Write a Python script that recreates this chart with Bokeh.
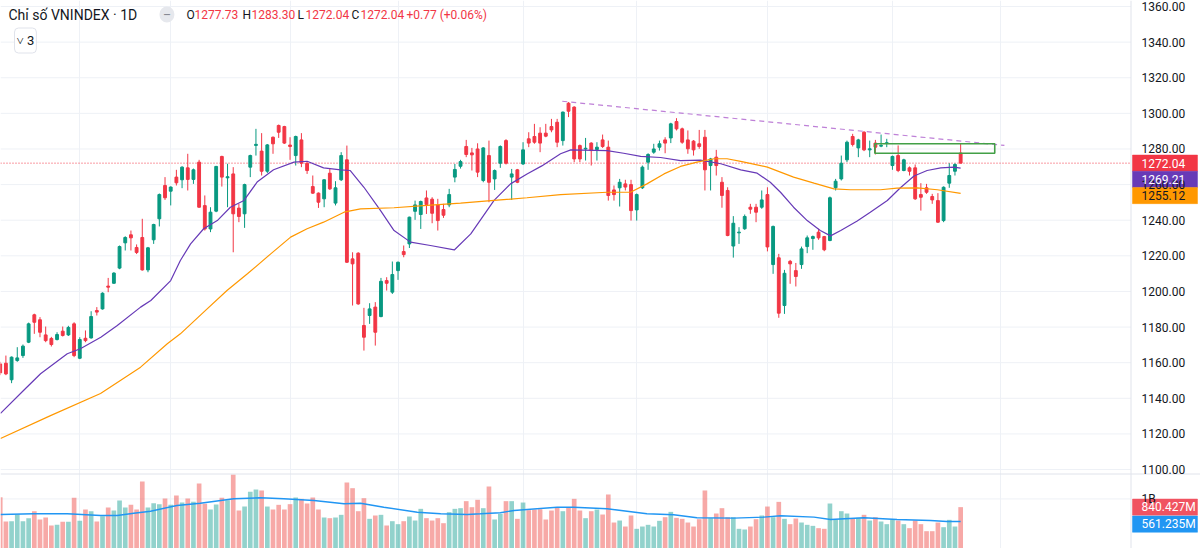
from bokeh.plotting import figure
from bokeh.models import ColumnDataSource, Range1d, FixedTicker, Label, Span
from bokeh.embed import file_html
from bokeh.resources import INLINE

FONT = "Roboto"

# ---------------- data ----------------
idx = list(range(-1, 169))

opens = [
    1159.3, 1159.7, 1150.4, 1161.2, 1164.0, 1171.5, 1186.9, 1184.1, 1175.6, 1173.6,
    1173.0, 1177.7, 1175.6, 1181.8, 1162.5, 1173.7, 1173.9, 1189.3, 1190.2, 1203.0,
    1204.6, 1213.1, 1227.3, 1231.8, 1224.7, 1230.3, 1212.1, 1229.0, 1240.8, 1259.5,
    1256.3, 1264.2, 1262.7, 1269.4, 1262.9, 1272.6, 1248.2, 1235.1, 1245.1, 1275.8,
    1263.8, 1266.0, 1246.8, 1243.6, 1269.8, 1282.0, 1278.8, 1267.5, 1286.6, 1293.2,
    1292.6, 1282.2, 1276.3, 1285.1, 1272.0, 1258.9, 1255.2, 1252.0, 1266.4, 1249.6,
    1262.7, 1273.9, 1218.3, 1221.5, 1180.9, 1186.5, 1191.2, 1185.9, 1206.1, 1199.6,
    1211.7, 1222.4, 1226.7, 1245.0, 1243.2, 1252.5, 1251.8, 1248.6, 1246.0, 1248.6,
    1264.2, 1270.3, 1281.4, 1277.8, 1280.0, 1262.3, 1276.3, 1263.2, 1272.0, 1284.7,
    1264.2, 1268.3, 1271.6, 1285.7, 1287.0, 1288.9, 1288.9, 1292.6, 1295.0, 1284.7,
    1305.7, 1303.5, 1281.9, 1280.0, 1283.3, 1279.7, 1285.1, 1281.0, 1257.0, 1258.2,
    1260.4, 1260.0, 1245.8, 1258.2, 1272.6, 1278.2, 1281.0, 1285.1, 1286.2, 1295.4,
    1291.3, 1285.1, 1284.4, 1282.9, 1286.6, 1270.7, 1275.4, 1261.3, 1256.7, 1225.5,
    1232.9, 1235.2, 1247.3, 1247.3, 1247.3, 1254.4, 1215.1, 1218.9, 1192.1, 1216.9,
    1211.7, 1215.1, 1225.2, 1229.7, 1233.3, 1230.8, 1228.6, 1258.2, 1263.2, 1273.9,
    1287.0, 1280.6, 1289.4, 1279.5, 1283.3, 1281.6, 1283.2, 1270.7, 1276.3, 1267.9,
    1269.4, 1269.4, 1254.4, 1258.2, 1253.3, 1251.0, 1239.8, 1260.8, 1267.5, 1277.73,
]
highs = [
    1160.5, 1164.0, 1163.5, 1168.7, 1170.2, 1182.5, 1187.5, 1185.6, 1180.3, 1174.5,
    1177.1, 1180.3, 1180.7, 1182.7, 1174.3, 1178.1, 1188.9, 1191.2, 1199.5, 1207.6,
    1210.8, 1225.8, 1231.0, 1234.2, 1226.4, 1240.8, 1225.0, 1238.0, 1255.0, 1264.2,
    1259.0, 1268.3, 1270.3, 1277.3, 1269.0, 1273.9, 1253.9, 1247.3, 1270.5, 1276.2,
    1271.7, 1269.8, 1249.2, 1260.5, 1276.8, 1291.3, 1288.9, 1282.8, 1287.0, 1293.7,
    1293.0, 1286.6, 1287.5, 1288.9, 1272.5, 1265.1, 1255.6, 1263.0, 1268.8, 1261.9,
    1278.2, 1281.9, 1222.0, 1222.0, 1190.8, 1193.4, 1194.0, 1207.6, 1208.0, 1216.8,
    1216.8, 1225.8, 1242.0, 1251.0, 1251.0, 1256.7, 1252.9, 1252.0, 1249.2, 1257.6,
    1271.6, 1273.9, 1285.1, 1280.6, 1283.2, 1281.0, 1284.7, 1268.5, 1282.0, 1285.5,
    1268.8, 1268.8, 1283.8, 1289.4, 1294.1, 1292.2, 1294.1, 1296.9, 1296.9, 1301.0,
    1306.3, 1304.0, 1282.5, 1286.2, 1283.8, 1283.8, 1288.1, 1284.7, 1259.5, 1263.2,
    1262.7, 1262.7, 1255.0, 1270.7, 1277.6, 1282.9, 1284.7, 1286.6, 1294.7, 1297.3,
    1292.0, 1290.4, 1285.0, 1290.7, 1290.7, 1275.0, 1279.5, 1264.2, 1258.5, 1242.3,
    1236.1, 1243.2, 1249.2, 1249.2, 1256.7, 1258.5, 1237.0, 1221.1, 1212.1, 1217.7,
    1216.0, 1225.2, 1231.4, 1231.4, 1235.2, 1231.2, 1253.3, 1263.2, 1276.3, 1284.7,
    1288.5, 1285.7, 1290.0, 1284.7, 1285.1, 1288.1, 1285.7, 1276.3, 1282.0, 1274.5,
    1270.2, 1271.3, 1260.8, 1260.4, 1254.8, 1255.2, 1259.0, 1272.0, 1272.0, 1283.30,
]
lows = [
    1153.0, 1153.0, 1148.5, 1160.5, 1162.7, 1171.0, 1176.2, 1174.3, 1171.5, 1169.1,
    1172.5, 1174.7, 1175.0, 1163.1, 1162.0, 1171.5, 1173.5, 1186.5, 1189.8, 1199.6,
    1204.3, 1212.5, 1223.0, 1223.0, 1221.0, 1211.7, 1210.8, 1226.7, 1236.5, 1251.4,
    1248.3, 1259.5, 1258.0, 1256.7, 1260.4, 1247.0, 1234.2, 1233.3, 1244.5, 1258.9,
    1247.3, 1222.0, 1238.9, 1235.7, 1264.2, 1276.3, 1265.1, 1266.5, 1277.3, 1286.2,
    1282.8, 1273.9, 1270.7, 1269.8, 1266.0, 1254.8, 1246.9, 1247.3, 1257.0, 1248.3,
    1262.0, 1216.0, 1192.1, 1192.5, 1166.8, 1181.8, 1169.6, 1185.5, 1200.5, 1198.6,
    1206.5, 1219.2, 1224.4, 1240.2, 1235.1, 1243.5, 1238.3, 1234.2, 1241.3, 1247.3,
    1261.3, 1269.0, 1275.4, 1267.9, 1264.2, 1261.3, 1250.1, 1257.0, 1269.4, 1271.3,
    1251.4, 1260.8, 1271.0, 1281.0, 1282.9, 1278.2, 1286.6, 1289.4, 1281.0, 1281.9,
    1297.9, 1272.6, 1272.6, 1273.5, 1270.7, 1273.5, 1280.6, 1251.0, 1251.0, 1247.7,
    1256.7, 1239.8, 1239.8, 1257.5, 1268.3, 1277.3, 1279.1, 1277.6, 1283.3, 1290.4,
    1282.9, 1277.3, 1276.3, 1280.1, 1256.7, 1256.7, 1265.1, 1247.0, 1231.0, 1219.0,
    1226.7, 1234.6, 1243.6, 1238.9, 1246.4, 1222.5, 1209.9, 1185.2, 1187.4, 1204.3,
    1202.8, 1212.7, 1221.5, 1223.4, 1229.0, 1222.6, 1228.2, 1256.7, 1262.3, 1272.6,
    1281.4, 1275.4, 1278.8, 1275.4, 1276.9, 1281.0, 1281.0, 1268.3, 1267.0, 1267.5,
    1265.1, 1251.4, 1245.4, 1254.8, 1249.2, 1238.5, 1238.9, 1258.2, 1265.1, 1272.04,
]
closes = [
    1154.3, 1153.7, 1163.1, 1162.7, 1169.3, 1181.8, 1182.7, 1177.1, 1172.4, 1170.2,
    1175.8, 1175.3, 1179.8, 1164.0, 1173.0, 1172.4, 1185.9, 1188.4, 1199.0, 1202.4,
    1210.3, 1225.2, 1230.3, 1230.1, 1221.9, 1212.1, 1224.5, 1237.6, 1254.4, 1252.6,
    1258.6, 1261.0, 1269.8, 1262.9, 1268.3, 1247.3, 1235.1, 1244.5, 1270.2, 1264.2,
    1264.4, 1243.6, 1242.1, 1260.0, 1276.3, 1282.6, 1267.5, 1282.3, 1282.9, 1289.4,
    1283.3, 1281.4, 1287.0, 1272.0, 1267.9, 1255.2, 1250.1, 1262.7, 1257.6, 1258.2,
    1276.3, 1216.4, 1215.5, 1193.0, 1174.3, 1190.2, 1177.1, 1205.7, 1204.6, 1209.5,
    1216.4, 1220.7, 1241.7, 1248.6, 1250.5, 1248.8, 1243.9, 1239.8, 1242.8, 1254.4,
    1268.5, 1272.9, 1276.9, 1276.7, 1267.0, 1280.6, 1261.3, 1267.9, 1281.4, 1272.0,
    1266.0, 1261.3, 1279.5, 1283.3, 1283.8, 1283.3, 1287.2, 1290.7, 1283.8, 1300.7,
    1301.2, 1274.4, 1274.4, 1280.4, 1279.1, 1281.0, 1281.4, 1253.9, 1254.4, 1261.3,
    1258.6, 1245.4, 1254.4, 1269.8, 1276.9, 1280.0, 1282.9, 1283.3, 1294.1, 1291.3,
    1283.8, 1280.1, 1279.5, 1281.4, 1268.3, 1274.4, 1270.7, 1253.9, 1231.4, 1238.3,
    1233.3, 1242.1, 1246.2, 1244.5, 1251.4, 1225.0, 1236.5, 1187.8, 1210.2, 1215.5,
    1208.4, 1223.9, 1230.1, 1230.8, 1230.1, 1223.4, 1252.6, 1261.9, 1272.0, 1283.8,
    1282.5, 1285.1, 1279.5, 1280.1, 1281.0, 1282.0, 1283.5, 1275.8, 1267.9, 1273.9,
    1267.5, 1252.0, 1252.9, 1255.7, 1251.4, 1238.9, 1258.5, 1265.1, 1271.27, 1272.04,
]
volumes_m = [
    1035, 560, 566, 696, 566, 625, 761, 599, 638, 482,
    495, 553, 553, 1022, 573, 794, 761, 560, 664, 833,
    774, 970, 833, 885, 794, 1340, 833, 917, 898, 1009,
    885, 1067, 930, 1009, 943, 1301, 905, 794, 891, 1022,
    976, 1477, 774, 852, 1139, 1184, 1165, 852, 794, 885,
    794, 898, 1028, 1002, 911, 1028, 794, 638, 625, 638,
    690, 1321, 1210, 761, 1015, 612, 677, 690, 482, 566,
    508, 566, 657, 579, 807, 625, 579, 625, 527, 742,
    807, 820, 957, 839, 983, 820, 1243, 599, 709, 957,
    957, 612, 930, 781, 794, 800, 599, 774, 839, 761,
    833, 1002, 774, 625, 761, 794, 696, 1087, 540, 579,
    462, 677, 417, 462, 495, 462, 573, 644, 748, 631,
    612, 540, 462, 605, 1165, 625, 716, 820, 644, 644,
    417, 404, 462, 605, 677, 852, 644, 943, 612, 508,
    618, 540, 495, 475, 430, 417, 911, 599, 761, 716,
    612, 631, 690, 579, 644, 560, 508, 599, 579, 508,
    430, 579, 508, 371, 371, 540, 449, 592, 462, 840.427,
]

# moving averages (x in bar index, y in price / volume M)
ma20_x = [-0.95, 3.1, 6.1, 10.8, 13.1, 16.7, 19.6, 23.7, 25.5, 29.0, 30.7, 32.5, 34.8, 37.2,
          39.5, 41.9, 44.2, 47.1, 50.7, 53.0, 55.9, 58.9, 60.6, 63.0, 65.9, 68.3, 71.2, 74.7,
          78.9, 81.8, 85.9, 88.8, 91.7, 94.3, 97.6, 99.4, 105.8, 108.7, 111.7, 115.2, 118.7,
          122.2, 125.8, 129.3, 132.2, 134.5, 136.3, 138.6, 141.0, 143.3, 145.1, 146.9, 149.8,
          152.1, 155.1, 157.4, 159.8, 162.1, 164.5, 166.8, 168.0]
ma20_y = [1131.5, 1144.4, 1153.8, 1165.0, 1167.8, 1174.3, 1180.9, 1191.2, 1194.9, 1206.1,
          1217.4, 1226.7, 1235.2, 1239.8, 1247.3, 1251.1, 1261.4, 1268.3, 1272.6, 1273.1,
          1269.4, 1268.3, 1267.9, 1258.5, 1245.5, 1234.2, 1227.7, 1225.8, 1223.3, 1232.3,
          1251.1, 1260.4, 1266.0, 1270.5, 1277.3, 1279.5, 1279.1, 1277.6, 1275.8, 1275.2,
          1273.5, 1273.7, 1271.7, 1268.3, 1266.4, 1261.3, 1255.7, 1247.3, 1239.8, 1234.2,
          1231.2, 1234.2, 1239.5, 1244.5, 1251.1, 1258.2, 1264.8, 1267.9, 1269.4, 1269.8,
          1269.21]
ma50_x = [-0.95, 7.85, 16.65, 23.7, 28.4, 30.7, 34.8, 38.9, 42.5, 46.6, 50.1, 53.0, 55.9,
          59.5, 62.4, 68.3, 74.1, 80.0, 85.9, 91.7, 97.6, 105.8, 109.9, 112.8, 115.8, 118.7,
          121.6, 124.6, 126.9, 129.3, 134.0, 138.6, 142.2, 145.7, 148.6, 153.9, 156.8, 160.4,
          163.9, 168.0]
ma50_y = [1117.4, 1130.3, 1142.7, 1157.5, 1170.6, 1176.2, 1188.4, 1200.5, 1209.9, 1221.1,
          1230.5, 1235.2, 1238.9, 1244.5, 1246.4, 1247.0, 1248.3, 1249.6, 1251.1, 1252.6,
          1254.4, 1255.7, 1255.7, 1260.4, 1266.0, 1270.2, 1272.6, 1274.5, 1274.5, 1273.0,
          1269.8, 1264.2, 1260.8, 1257.6, 1257.1, 1257.1, 1258.0, 1258.2, 1257.1, 1255.12]
vma_x = [-0.95, 4.9, 10.8, 16.65, 19.6, 22.5, 25.45, 30.1, 34.2, 40.1, 44.8, 48.9, 54.2,
         59.5, 62.4, 66.5, 72.4, 76.5, 81.2, 83.5, 87.0, 89.4, 97.0, 99.9, 105.8, 112.8,
         117.5, 121.6, 128.1, 133.4, 136.3, 142.2, 145.1, 151.0, 156.8, 162.7, 165.6, 168.0]
vma_y = [697, 710, 710, 677, 677, 722, 761, 872, 917, 1003, 1022, 1003, 970, 905, 917, 839,
         741, 710, 697, 710, 730, 775, 839, 839, 808, 710, 691, 632, 625, 645, 671, 645,
         599, 632, 599, 580, 560, 561.235]

# drawings on the chart
trend_x = [97.9, 175.7]
trend_y = [1306.8, 1282.0]
zone_left, zone_right = [152.9], [174.0]
zone_top, zone_bottom = [1282.9], [1277.6]

month_ticks = [13, 29, 50, 69, 91, 111, 134, 156, 175]
price_ticks = list(range(1100, 1361, 20))
vol_ticks = [1000]
vol_tick_labels = ["1B"]

ma20_last, ma50_last = 1269.21, 1255.12
vol_last, vma_last = 840.427, 561.235


# ---------------- layout helpers (reference pixel <-> data) ----------------
def px_to_x(px):
    return (px - 5.4) / 5.683


def py_to_price(py):
    return 1360 - (py - 6) * 0.5615


def price_to_py(v):
    return 6 + (1360 - v) / 0.5615


def py_to_vol(py):
    return (549.7 - py) / 0.05125


def vol_to_py(v):
    return 549.7 - v * 0.05125


UP, DOWN = "#089981", "#f23645"
TXT = "#131722"
GRID = "#eef1f6"
AXIS_X = 1130.5          # pixel column of the price-scale border

up = [c >= o for o, c in zip(opens, closes)]
src = ColumnDataSource(dict(
    x=idx, h=highs, l=lows,
    top=[max(o, c) for o, c in zip(opens, closes)],
    bottom=[min(o, c) for o, c in zip(opens, closes)],
    color=[UP if u else DOWN for u in up],
    vcolor=["#26a69a" if u else "#ef5350" for u in up],
    vol=volumes_m,
))

p = figure(width=1200, height=548, output_backend="svg", toolbar_location=None, tools="",
           x_range=Range1d(px_to_x(0), px_to_x(1200)),
           y_range=Range1d(py_to_price(548), py_to_price(0)),
           x_axis_location=None, y_axis_location=None,
           min_border=0, min_border_left=0, min_border_right=0, min_border_top=0, min_border_bottom=0,
           background_fill_color="white", border_fill_color="white", outline_line_color=None)
p.title.visible = False
p.extra_y_ranges = {"vol": Range1d(py_to_vol(548), py_to_vol(0))}

# grid: vertical month lines, horizontal price lines that stop at the price scale
p.xgrid.ticker = FixedTicker(ticks=month_ticks)
p.xgrid.grid_line_color = GRID
p.ygrid.visible = False
x_left, x_axis = px_to_x(0), px_to_x(AXIS_X)
p.segment(x0=[x_left] * len(price_ticks), x1=[x_axis] * len(price_ticks),
          y0=price_ticks, y1=price_ticks, line_color=GRID, line_width=1)
p.segment(x0=[x_left] * len(vol_ticks), x1=[x_axis] * len(vol_ticks),
          y0=vol_ticks, y1=vol_ticks, line_color=GRID, line_width=1, y_range_name="vol")

# price-scale border and pane separator
p.add_layout(Span(location=x_axis, dimension="height", line_color="#e0e3eb", line_width=1))
p.add_layout(Span(location=py_to_price(473.5), dimension="width", line_color="#e0e3eb", line_width=1))

# volume
p.vbar(x="x", width=0.82, top="vol", bottom=0, fill_color="vcolor", fill_alpha=0.5,
       line_color=None, y_range_name="vol", source=src)
p.line(vma_x, vma_y, line_color="#2196f3", line_width=1.4, y_range_name="vol")

# last-price dotted line
p.segment(x0=[x_left], x1=[x_axis], y0=[closes[-1]], y1=[closes[-1]],
          line_color=DOWN, line_dash="1 2", line_width=1)

# candles
p.segment(x0="x", y0="h", x1="x", y1="l", line_color="color", line_width=1, source=src)
p.vbar(x="x", width=0.5, top="top", bottom="bottom", fill_color="color", line_color="color",
       line_width=1, source=src)

# moving averages
p.line(ma20_x, ma20_y, line_color="#673ab7", line_width=1.2)
p.line(ma50_x, ma50_y, line_color="#ff9800", line_width=1.2)

# drawings
p.line(trend_x, trend_y, line_color="#b36ad0", line_alpha=0.85, line_width=1.2, line_dash="5 4")
p.quad(left=zone_left, right=zone_right, top=zone_top, bottom=zone_bottom,
       fill_alpha=0, line_color="#43a047", line_width=1.6)

# price-scale labels
lab_x = px_to_x(1141)
for t in price_ticks:
    p.add_layout(Label(x=lab_x, y=t, text="%.2f" % t, text_font=FONT, text_font_size="12px",
                       text_color=TXT, text_baseline="middle", text_align="left"))
for t, s in zip(vol_ticks, vol_tick_labels):
    p.add_layout(Label(x=lab_x, y=t, text=s, text_font=FONT, text_font_size="12px",
                       text_color=TXT, text_baseline="middle", text_align="left",
                       y_range_name="vol"))


# value tags on the price scale (boxes are drawn as quads, text as labels)
def tag(center_py, text, bg, fg, h=16.2):
    top, bot = py_to_price(center_py - h / 2), py_to_price(center_py + h / 2)
    p.quad(left=[px_to_x(1132)], right=[px_to_x(1197)], top=[top], bottom=[bot],
           fill_color=bg, line_color=bg, line_width=0.5)
    p.add_layout(Label(x=px_to_x(1141), y=py_to_price(center_py), text=text, text_font=FONT,
                       text_font_size="12px", text_color=fg, text_baseline="middle",
                       text_align="left"))


c0 = price_to_py(closes[-1])
tag(c0, "%.2f" % closes[-1], "#f23645", "white")
tag(c0 + 16.2, "%.2f" % ma20_last, "#673ab7", "white")
tag(c0 + 32.4, "%.2f" % ma50_last, "#ff9800", TXT)
v0 = vol_to_py(vol_last)
tag(v0, "%.3fM" % vol_last, "#f05361", "white")
tag(v0 + 17, "%.3fM" % vma_last, "#2196f3", "white")

# header legend
hy = py_to_price(14)
p.add_layout(Label(x=px_to_x(8), y=hy, text="Chỉ số VNINDEX · 1D", text_font=FONT,
                   text_font_size="14px", text_color=TXT, text_baseline="middle"))
p.add_layout(Label(x=px_to_x(159), y=hy, text="—", text_font=FONT, text_font_size="9px",
                   text_font_style="bold", text_color="#868993", text_baseline="middle",
                   background_fill_color="#e6e8ed", border_radius=8, padding=(4, 3)))
red_txt = "#f23645"
chg = closes[-1] - closes[-2]
parts = [
    (186, "O", TXT), (194, "%.2f" % opens[-1], red_txt),
    (242, "H", TXT), (251, "%.2f" % highs[-1], red_txt),
    (297, "L", TXT), (305, "%.2f" % lows[-1], red_txt),
    (351, "C", TXT), (360, "%.2f" % closes[-1], red_txt),
    (406, "%+.2f (%+.2f%%)" % (chg, chg / closes[-2] * 100), red_txt),
]
for px, txt, col in parts:
    p.add_layout(Label(x=px_to_x(px), y=hy, text=txt, text_font=FONT, text_font_size="12px",
                       text_color=col, text_baseline="middle"))
p.add_layout(Label(x=px_to_x(14), y=py_to_price(40), text="˅ 3", text_font=FONT,
                   text_font_size="13px", text_color=TXT, text_baseline="middle",
                   background_fill_color="white", border_line_color="#e0e3eb", border_radius=4,
                   padding=(2, 5)))

open("out.html", "w").write(file_html(p, INLINE, title="VNINDEX"))
